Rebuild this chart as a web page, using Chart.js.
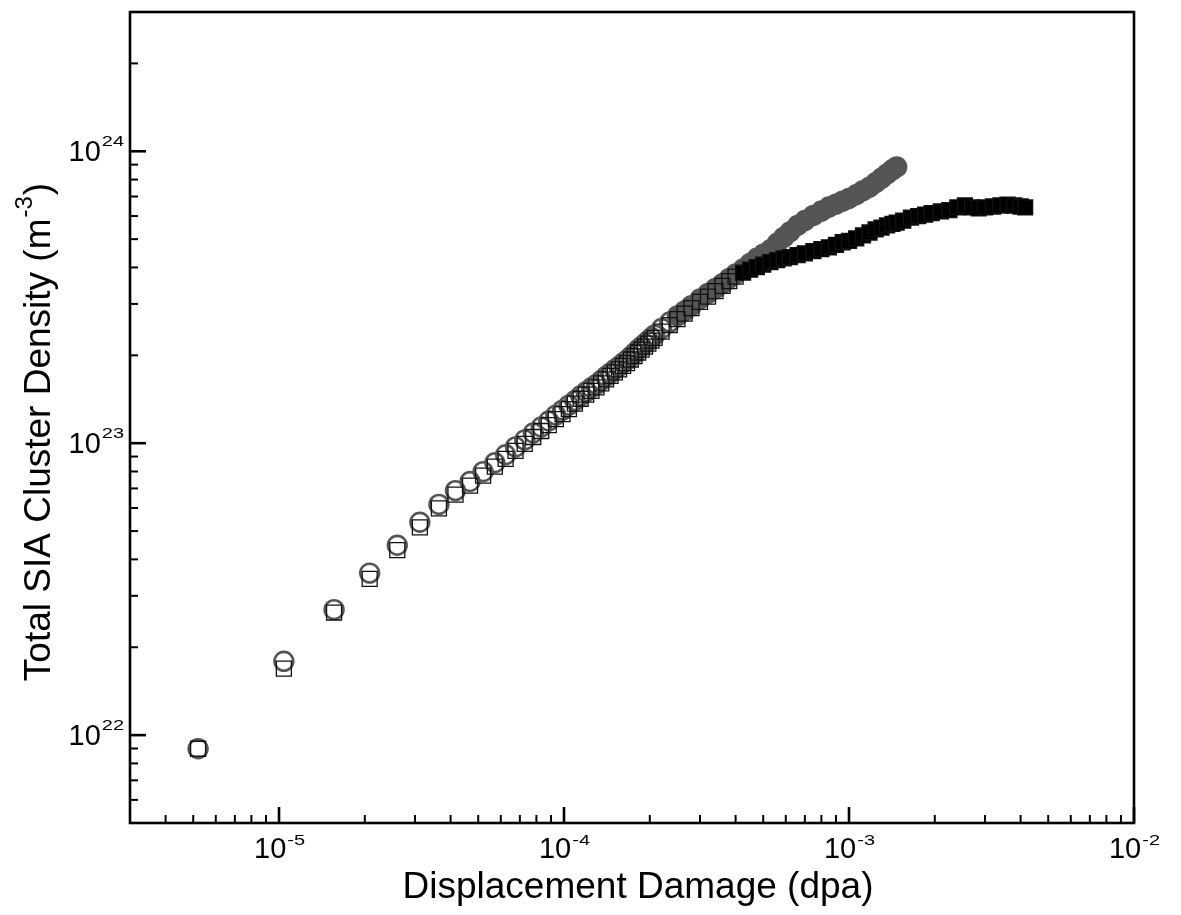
<!DOCTYPE html>
<html>
<head>
<meta charset="utf-8">
<script src="https://cdn.jsdelivr.net/npm/chart.js@4.4.1/dist/chart.umd.min.js"></script>
<style>
  body { margin: 0; background: #fff; }
  #wrap { width: 1181px; height: 915px; }
</style>
</head>
<body>
<div id="wrap"><canvas id="myChart"></canvas></div>
<script>
// displacement damage (dpa), shared by both series
const dpa = [
  5.2e-6, 1.04e-5, 1.56e-5, 2.08e-5, 2.6e-5, 3.12e-5, 3.64e-5, 4.16e-5, 4.68e-5, 5.2e-5,
  5.72e-5, 6.24e-5, 6.76e-5, 7.28e-5, 7.8e-5, 8.32e-5, 8.84e-5, 9.36e-5, 9.88e-5, 1.04e-4,
  1.092e-4, 1.144e-4, 1.196e-4, 1.248e-4, 1.3e-4, 1.352e-4, 1.404e-4, 1.456e-4, 1.508e-4, 1.56e-4,
  1.612e-4, 1.664e-4, 1.716e-4, 1.768e-4, 1.82e-4, 1.872e-4, 1.924e-4, 1.976e-4, 2.028e-4, 2.08e-4,
  2.2e-4, 2.35e-4, 2.5e-4, 2.65e-4, 2.8e-4, 3.0e-4, 3.2e-4, 3.4e-4, 3.6e-4, 3.8e-4,
  4.0e-4, 4.25e-4, 4.5e-4, 4.75e-4, 5.0e-4, 5.3e-4, 5.6e-4, 5.9e-4, 6.2e-4, 6.6e-4,
  7.0e-4, 7.5e-4, 8.0e-4, 8.5e-4, 9.0e-4, 9.5e-4, 1.0e-3, 1.06e-3, 1.12e-3, 1.18e-3,
  1.24e-3, 1.3e-3, 1.36e-3, 1.42e-3, 1.47e-3,
  1.55e-3, 1.65e-3, 1.75e-3, 1.85e-3, 1.95e-3, 2.1e-3, 2.25e-3, 2.4e-3, 2.55e-3, 2.7e-3,
  2.85e-3, 3.0e-3, 3.2e-3, 3.4e-3, 3.6e-3, 3.8e-3, 4.0e-3, 4.15e-3
];

// grey circles (m^-3)
const circleDensity = [
  8.98e21, 1.79e22, 2.69e22, 3.59e22, 4.47e22, 5.36e22, 6.17e22, 6.88e22, 7.39e22, 7.99e22,
  8.57e22, 9.13e22, 9.71e22, 1.026e23, 1.084e23, 1.136e23, 1.191e23, 1.248e23, 1.298e23, 1.35e23,
  1.398e23, 1.454e23, 1.501e23, 1.548e23, 1.591e23, 1.642e23, 1.694e23, 1.741e23, 1.789e23, 1.832e23,
  1.882e23, 1.928e23, 1.981e23, 2.036e23, 2.093e23, 2.143e23, 2.194e23, 2.246e23, 2.299e23, 2.348e23,
  2.47e23, 2.6e23, 2.73e23, 2.84e23, 2.96e23, 3.12e23, 3.26e23, 3.39e23, 3.52e23, 3.67e23,
  3.8e23, 3.95e23, 4.13e23, 4.3e23, 4.44e23, 4.6e23, 4.84e23, 5.07e23, 5.29e23, 5.57e23,
  5.79e23, 6.03e23, 6.24e23, 6.44e23, 6.59e23, 6.75e23, 6.89e23, 7.1e23, 7.33e23, 7.53e23,
  7.8e23, 8.08e23, 8.37e23, 8.64e23, 8.84e23
];

// black squares (m^-3)
const squareDensity = [
  8.98e21, 1.69e22, 2.63e22, 3.43e22, 4.3e22, 5.15e22, 5.98e22, 6.67e22, 7.16e22, 7.74e22,
  8.31e22, 8.84e22, 9.41e22, 9.95e22, 1.05e23, 1.101e23, 1.154e23, 1.21e23, 1.258e23, 1.308e23,
  1.366e23, 1.42e23, 1.466e23, 1.512e23, 1.554e23, 1.604e23, 1.655e23, 1.701e23, 1.748e23, 1.789e23,
  1.839e23, 1.882e23, 1.935e23, 1.989e23, 2.045e23, 2.093e23, 2.143e23, 2.194e23, 2.246e23, 2.294e23,
  2.41e23, 2.54e23, 2.66e23, 2.78e23, 2.9e23, 3.05e23, 3.18e23, 3.32e23, 3.46e23, 3.59e23,
  3.72e23, 3.84e23, 3.93e23, 4.01e23, 4.09e23, 4.17e23, 4.24e23, 4.3e23, 4.34e23, 4.41e23,
  4.47e23, 4.55e23, 4.62e23, 4.69e23, 4.78e23, 4.88e23, 4.93e23, 5.03e23, 5.15e23, 5.27e23,
  5.4e23, 5.48e23, 5.57e23, 5.64e23, 5.7e23,
  5.79e23, 5.93e23, 6.0e23, 6.07e23, 6.14e23, 6.22e23, 6.29e23, 6.42e23, 6.52e23, 6.42e23,
  6.37e23, 6.42e23, 6.47e23, 6.52e23, 6.57e23, 6.52e23, 6.47e23, 6.42e23
];

const xExponents = [-5, -4, -3, -2];
const yExponents = [22, 23, 24];
const xTitle = 'Displacement Damage (dpa)';
const yTitle = ['Total SIA Cluster Density (m', '-3', ')'];

const FONT = '"Liberation Sans", Arial, sans-serif';
const circleSolidFrom = 2.5e-4;
const squareSolidFrom = 4.25e-4;

function logTicks(min, max) {
  let out = [];
  for (let n = Math.floor(Math.log10(min)); n <= Math.ceil(Math.log10(max)); n++) {
    for (let m = 1; m <= 9; m++) {
      const v = m * Math.pow(10, n);
      if (v >= min * 0.999 && v <= max * 1.001) out.push({ v: v, major: m == 1 });
    }
  }
  return out;
}

function powLabel(c, x, y, exp, align, supDrop) {
  const sup = String(exp);
  c.font = '29px ' + FONT;
  const wb = c.measureText('10').width;
  c.font = '20px ' + FONT;
  const ws = c.measureText(sup).width;
  const left = align == 'center' ? x - (wb + ws) / 2 : x - wb - ws;
  c.textAlign = 'left';
  c.textBaseline = 'alphabetic';
  c.font = '29px ' + FONT;
  c.fillText('10', left, y);
  c.save();
  c.translate(left + wb + 1, y - supDrop);
  c.scale(1, 0.7);
  c.font = '20px ' + FONT;
  c.fillText(sup, 0, 0);
  c.restore();
}

const frame = {
  id: 'frame',
  afterDraw(chart) {
    const c = chart.ctx;
    const a = chart.chartArea;
    const xs = chart.scales.x;
    const ys = chart.scales.y;
    c.save();
    c.strokeStyle = '#000';
    c.fillStyle = '#000';
    c.lineWidth = 2.6;
    c.strokeRect(a.left, a.top, a.right - a.left, a.bottom - a.top);

    logTicks(xs.min, xs.max).forEach(t => {
      const px = xs.getPixelForValue(t.v);
      c.beginPath();
      c.lineWidth = t.major ? 2.6 : 2;
      c.moveTo(px, a.bottom);
      c.lineTo(px, a.bottom - (t.major ? 16 : 8));
      c.stroke();
    });
    logTicks(ys.min, ys.max).forEach(t => {
      const py = ys.getPixelForValue(t.v);
      c.beginPath();
      c.lineWidth = t.major ? 2.6 : 2;
      c.moveTo(a.left, py);
      c.lineTo(a.left + (t.major ? 16 : 8), py);
      c.stroke();
    });

    xExponents.forEach(e => {
      powLabel(c, xs.getPixelForValue(Math.pow(10, e)), a.bottom + 35, e, 'center', 13);
    });
    yExponents.forEach(e => {
      powLabel(c, a.left - 7, ys.getPixelForValue(Math.pow(10, e)) + 10, e, 'right', 15);
    });

    // axis titles
    c.font = '37px ' + FONT;
    c.textAlign = 'center';
    c.fillText(xTitle, 638, a.bottom + 75);

    c.save();
    c.translate(50, 433);
    c.rotate(-Math.PI / 2);
    c.textAlign = 'left';
    c.font = '37px ' + FONT;
    const w1 = c.measureText(yTitle[0]).width;
    const w3 = c.measureText(yTitle[2]).width;
    c.font = '24px ' + FONT;
    const w2 = c.measureText(yTitle[1]).width;
    let x0 = -(w1 + w2 + w3) / 2;
    c.font = '37px ' + FONT;
    c.fillText(yTitle[0], x0, 0);
    c.font = '24px ' + FONT;
    c.fillText(yTitle[1], x0 + w1 + 1, -18);
    c.font = '37px ' + FONT;
    c.fillText(yTitle[2], x0 + w1 + w2 + 2, 0);
    c.restore();
    c.restore();
  }
};

const ctx = document.getElementById('myChart');

new Chart(ctx, {
  type: 'scatter',
  data: {
    datasets: [
      {
        label: 'squares',
        data: squareDensity.map((y, i) => ({ x: dpa[i], y: y })),
        pointStyle: 'rect',
        pointRadius: 10.6,
        borderWidth: 1.3,
        borderColor: '#111',
        backgroundColor: c => (c.raw && c.raw.x >= squareSolidFrom) ? '#000' : 'rgba(0,0,0,0)',
        order: 0
      },
      {
        label: 'circles',
        data: circleDensity.map((y, i) => ({ x: dpa[i], y: y })),
        pointStyle: 'circle',
        pointRadius: 9.4,
        borderWidth: 2.6,
        borderColor: '#555',
        backgroundColor: c => (c.raw && c.raw.x >= circleSolidFrom) ? '#555' : 'rgba(0,0,0,0)',
        order: 1
      }
    ]
  },
  options: {
    responsive: true,
    maintainAspectRatio: false,
    animation: false,
    events: [],
    layout: { padding: { top: 7, right: 47, left: 0, bottom: 0 } },
    plugins: { legend: { display: false }, tooltip: { enabled: false } },
    scales: {
      x: {
        type: 'logarithmic', min: 3e-6, max: 1e-2,
        grid: { display: false }, border: { display: false }, ticks: { display: false },
        afterFit: s => { s.height = 92; }
      },
      y: {
        type: 'logarithmic', min: 5e21, max: 3e24,
        grid: { display: false }, border: { display: false }, ticks: { display: false },
        afterFit: s => { s.width = 130; }
      }
    }
  },
  plugins: [frame]
});
</script>
</body>
</html>
